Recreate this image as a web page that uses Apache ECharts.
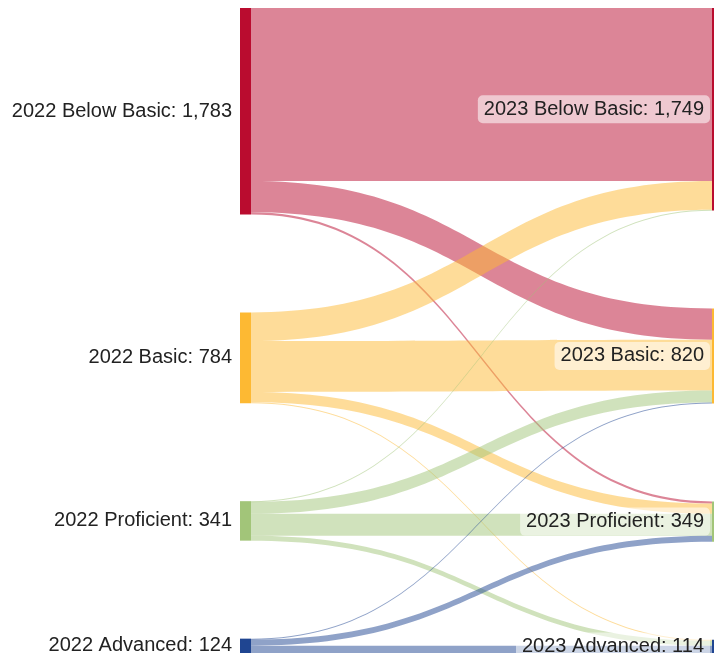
<!DOCTYPE html>
<html>
<head>
    <meta charset="utf-8">
    <title>Sankey</title>
    <style>
        html, body { margin: 0; padding: 0; background: #fff; }
        #main { width: 714px; height: 658px; }
    </style>
</head>
<body>
<div id="main"></div>
<script src="https://cdn.jsdelivr.net/npm/echarts@6/dist/echarts.min.js"></script>
<script type="text/javascript">
    // levels, left column = 2022, right column = 2023
    var levels = ['Below Basic', 'Basic', 'Proficient', 'Advanced'];
    var levelColors = ['#ba0c2f', '#fdb933', '#a2c579', '#1f4591'];
    var sourceYear = '2022';
    var targetYear = '2023';

    // flows: [from level, to level, students]
    var flows = [
        ['Below Basic', 'Below Basic', 1495],
        ['Below Basic', 'Basic', 270],
        ['Below Basic', 'Proficient', 18],
        ['Basic', 'Below Basic', 248],
        ['Basic', 'Basic', 439],
        ['Basic', 'Proficient', 88],
        ['Basic', 'Advanced', 9],
        ['Proficient', 'Below Basic', 6],
        ['Proficient', 'Basic', 103],
        ['Proficient', 'Proficient', 190],
        ['Proficient', 'Advanced', 42],
        ['Advanced', 'Basic', 8],
        ['Advanced', 'Proficient', 53],
        ['Advanced', 'Advanced', 63]
    ];

    var nodes = [];
    levels.forEach(function (lv, i) {
        nodes.push({
            name: sourceYear + ' ' + lv,
            itemStyle: { color: levelColors[i] }
        });
    });
    levels.forEach(function (lv, i) {
        nodes.push({
            name: targetYear + ' ' + lv,
            itemStyle: { color: levelColors[i] },
            label: {
                distance: 2,
                backgroundColor: 'rgba(255,255,255,0.55)',
                borderRadius: 5,
                padding: [4, 6, 4, 6]
            }
        });
    });

    var links = flows.map(function (f) {
        return {
            source: sourceYear + ' ' + f[0],
            target: targetYear + ' ' + f[1],
            value: f[2]
        };
    });

    var chart = echarts.init(document.getElementById('main'));
    chart.setOption({
        backgroundColor: '#fff',
        animation: false,
        series: [{
            type: 'sankey',
            left: 240,
            right: -9,
            top: 8,
            bottom: 5,
            nodeWidth: 11,
            nodeGap: 98,
            layoutIterations: 0,
            draggable: false,
            data: nodes,
            links: links,
            label: {
                position: 'left',
                distance: 8,
                color: '#222',
                fontFamily: 'Liberation Sans, Arial, sans-serif',
                fontSize: 20,
                formatter: function (p) {
                    return p.name + ': ' + p.value.toLocaleString('en-US');
                }
            },
            itemStyle: { borderWidth: 0 },
            lineStyle: {
                color: 'source',
                opacity: 0.5,
                curveness: 0.5
            }
        }]
    });
</script>
</body>
</html>
